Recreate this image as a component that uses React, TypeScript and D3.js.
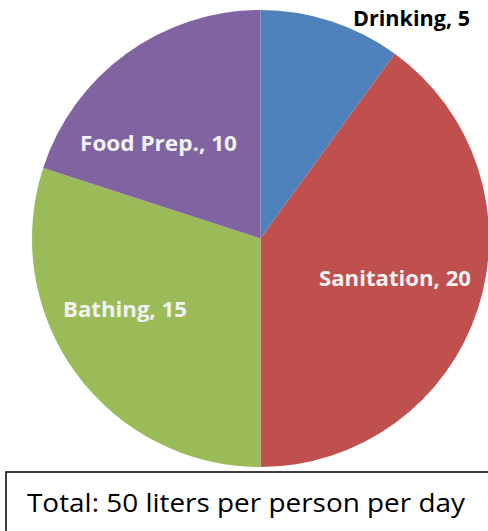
import React from "react";
import * as d3 from "d3";

const categories = ["Drinking", "Sanitation", "Bathing", "Food Prep."];
const values = [5, 20, 15, 10];
const colors = ["#4F81BD", "#C0504D", "#9BBB59", "#8064A2"];
const labelColors = ["#000000", "#F2F2F2", "#F2F2F2", "#F2F2F2"];
const totalText = "Total: 50 liters per person per day";

const W = 488;
const H = 531;
const cx = 260.5;
const cy = 238.5;
const R = 228.5;
// label layout: [left x, baseline y, text width] as placed in the reference
const labelBoxes: [number, number, number][] = [
  [353, 26, 117],
  [319, 286, 152],
  [63, 317, 124],
  [80, 151, 157],
];

export default function App() {
  const data = categories.map((c, i) => ({ c, v: values[i], i }));
  const pie = d3.pie<any>().value((d) => d.v).sort(null);
  const arcs = pie(data);
  const arc = d3.arc<any>().innerRadius(0).outerRadius(R);
  return (
    <svg
      width={W}
      height={H}
      style={{ position: "absolute", left: 0, top: 0, background: "#fff" }}
    >
      <g transform={`translate(${cx},${cy})`}>
        {arcs.map((a, i) => (
          <path key={i} d={arc(a) as string} fill={colors[i]} stroke="none" />
        ))}
      </g>
      {arcs.map((a, i) => {
        const label = `${categories[i]}, ${values[i]}`;
        const [x, y, w] = labelBoxes[i];
        return (
          <text
            key={i}
            x={x}
            y={y}
            fill={labelColors[i]}
            fontFamily="'Open Sans', 'Liberation Sans', sans-serif"
            fontWeight="bold"
            fontSize={22}
            textLength={w}
            lengthAdjust="spacingAndGlyphs"
          >
            {label}
          </text>
        );
      })}
      <rect x={6} y={472} width={W + 10} height={70} fill="#fff" stroke="#000" strokeWidth={1.5} />
      <text
        x={27}
        y={512}
        fontFamily="'Open Sans', 'Liberation Sans', sans-serif"
        fontSize={26}
        fill="#000"
        textLength={438}
        lengthAdjust="spacingAndGlyphs"
      >
        {totalText}
      </text>
    </svg>
  );
}
